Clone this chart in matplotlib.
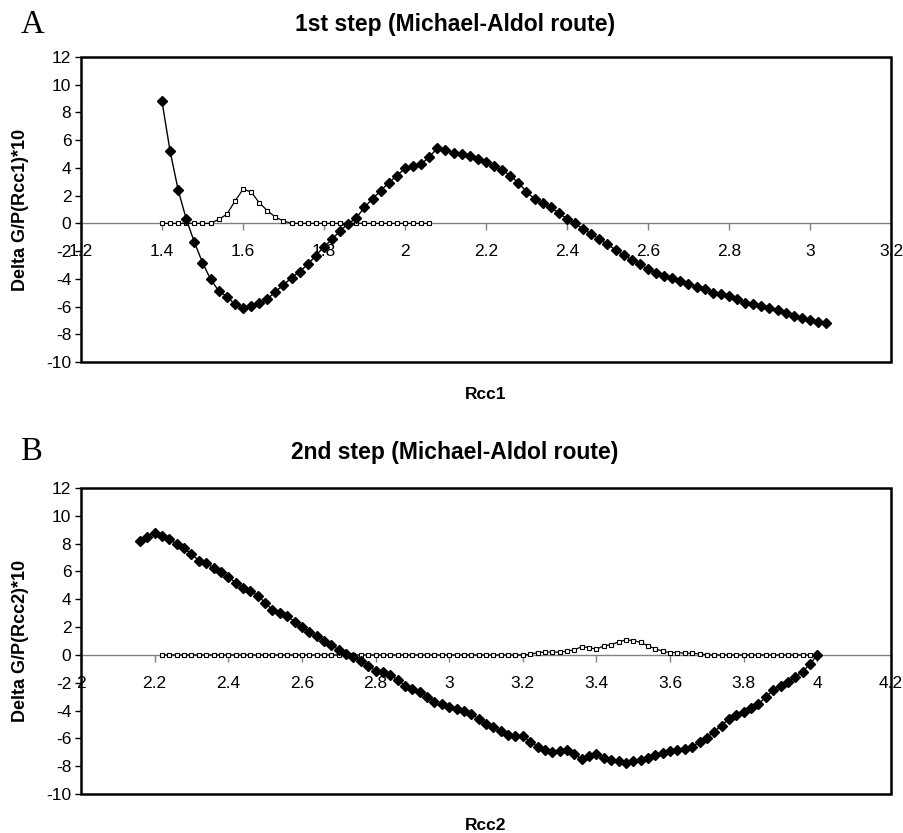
import matplotlib.pyplot as plt
from matplotlib.patches import Rectangle

# ---- panel A : 1st step ----
rcc1_x = [1.40 + 0.02 * i for i in range(83)]
rcc1_dg = [8.8, 5.2, 2.4, 0.3, -1.36, -2.83, -4.03, -4.87, -5.28, -5.83,
           -6.07, -5.95, -5.76, -5.47, -4.92, -4.44, -3.91, -3.48, -2.95, -2.32,
           -1.68, -1.15, -0.52, -0.04, 0.41, 1.16, 1.78, 2.36, 2.93, 3.44,
           3.97, 4.16, 4.26, 4.81, 5.41, 5.29, 5.09, 4.99, 4.88, 4.64,
           4.40, 4.14, 3.85, 3.44, 2.93, 2.28, 1.76, 1.49, 1.16, 0.73,
           0.32, 0.0, -0.43, -0.76, -1.15, -1.51, -1.92, -2.28, -2.64, -2.95,
           -3.31, -3.55, -3.77, -3.96, -4.15, -4.39, -4.56, -4.75, -4.99, -5.11,
           -5.23, -5.47, -5.71, -5.83, -5.95, -6.12, -6.26, -6.43, -6.67, -6.84,
           -6.96, -7.08, -7.20]
rcc1_sq_x = [1.40 + 0.02 * i for i in range(34)]
rcc1_sq = [0, 0, 0, 0, 0, 0, 0, 0.29, 0.65, 1.6,
           2.45, 2.28, 1.49, 0.92, 0.45, 0.17, 0, 0, 0, 0,
           0, 0, 0, 0, 0, 0, 0, 0, 0, 0,
           0, 0, 0, 0]

# ---- panel B : 2nd step ----
rcc2_x = [2.16 + 0.02 * i for i in range(93)]
rcc2_dg = [8.21, 8.50, 8.79, 8.55, 8.33, 7.97, 7.66, 7.26, 6.78, 6.59,
           6.27, 5.94, 5.58, 5.20, 4.84, 4.60, 4.26, 3.76, 3.23, 3.04,
           2.80, 2.39, 1.99, 1.68, 1.36, 1.03, 0.72, 0.36, 0.05, -0.17,
           -0.41, -0.77, -1.13, -1.24, -1.44, -1.80, -2.20, -2.44, -2.68, -3.00,
           -3.35, -3.54, -3.74, -3.90, -4.00, -4.24, -4.60, -4.96, -5.20, -5.46,
           -5.75, -5.82, -5.82, -6.23, -6.59, -6.82, -6.99, -6.94, -6.82, -7.13,
           -7.49, -7.26, -7.13, -7.38, -7.54, -7.66, -7.78, -7.66, -7.59, -7.38,
           -7.18, -7.02, -6.90, -6.87, -6.78, -6.59, -6.27, -5.94, -5.51, -5.08,
           -4.60, -4.31, -4.07, -3.83, -3.52, -3.04, -2.51, -2.23, -1.96, -1.56,
           -1.20, -0.65, 0.0]
rcc2_sq_x = [2.22 + 0.02 * i for i in range(90)]
rcc2_sq = [0] * 50 + [0.03, 0.17, 0.2, 0.2, 0.2, 0.27, 0.36, 0.6, 0.52, 0.41,
                      0.65, 0.74, 0.93, 1.08, 1.03, 0.9, 0.65, 0.45, 0.26, 0.17,
                      0.17, 0.12, 0.12, 0.07] + [0] * 16

panels = [
    dict(x=rcc1_x, y=rcc1_dg, sx=rcc1_sq_x, sy=rcc1_sq, xlim=(1.2, 3.2),
         title='1st step (Michael-Aldol route)', ylabel='Delta G/P(Rcc1)*10',
         xlabel='Rcc1', letter='A', rect=[0.0896, 0.5654, 0.8960, 0.3662],
         ty=25, ly=395),
    dict(x=rcc2_x, y=rcc2_dg, sx=rcc2_sq_x, sy=rcc2_sq, xlim=(2.0, 4.2),
         title='2nd step (Michael-Aldol route)', ylabel='Delta G/P(Rcc2)*10',
         xlabel='Rcc2', letter='B', rect=[0.0896, 0.0468, 0.8960, 0.3674],
         ty=452, ly=825),
]

W, H = 904, 833
plt.rcParams['font.family'] = ['Liberation Sans', 'DejaVu Sans']
plt.rcParams['axes.unicode_minus'] = False
fig = plt.figure(figsize=(W / 100, H / 100), dpi=100)

for p in panels:
    ax = fig.add_axes(p['rect'])
    ax.plot(p['sx'], p['sy'], color='black', lw=0.9, marker='s', ms=3.2,
            mfc='white', mec='black', mew=0.8, zorder=3)
    ax.plot(p['x'], p['y'], color='black', lw=1.0, marker='D', ms=4.8,
            mfc='black', mec='black', zorder=4)
    ax.set_xlim(*p['xlim'])
    ax.set_ylim(-10, 12)
    ax.set_yticks(range(-10, 13, 2))
    ticks = []
    t = p['xlim'][0]
    while t <= p['xlim'][1] + 1e-9:
        ticks.append(round(t, 1))
        t += 0.2
    ax.set_xticks(ticks)
    ax.set_xticklabels(['%g' % v for v in ticks])

    for s in ['top', 'left', 'right']:
        ax.spines[s].set_visible(False)
    ax.spines['bottom'].set_position(('data', 0))
    ax.spines['bottom'].set_color('#808080')
    ax.spines['bottom'].set_linewidth(1.0)
    ax.add_patch(Rectangle((0, 0), 1, 1, transform=ax.transAxes, fill=False,
                           edgecolor='black', lw=1.8, clip_on=False, zorder=5))

    ax.tick_params(axis='x', colors='#808080', length=5, width=1.0,
                   direction='out', pad=10, labelsize=12.5, labelcolor='black')
    ax.tick_params(axis='y', length=4, width=1.0, direction='out',
                   pad=3, labelsize=12.5)
    ax.set_ylabel(p['ylabel'], fontsize=13, fontweight='bold', va='center')
    ax.yaxis.set_label_coords(-60 / 810, 0.5)

    fig.text(486 / W, 1 - p['ly'] / H, p['xlabel'], ha='center', va='center',
             fontsize=12.5, fontweight='bold')
    fig.text(455 / W, 1 - p['ty'] / H, p['title'], ha='center', va='center',
             fontsize=16.5, fontweight='bold')
    fig.text(32 / W, 1 - p['ty'] / H, p['letter'], ha='center', va='center',
             fontsize=23.5, family='Liberation Serif')

fig.savefig('out.png', dpi=100)
